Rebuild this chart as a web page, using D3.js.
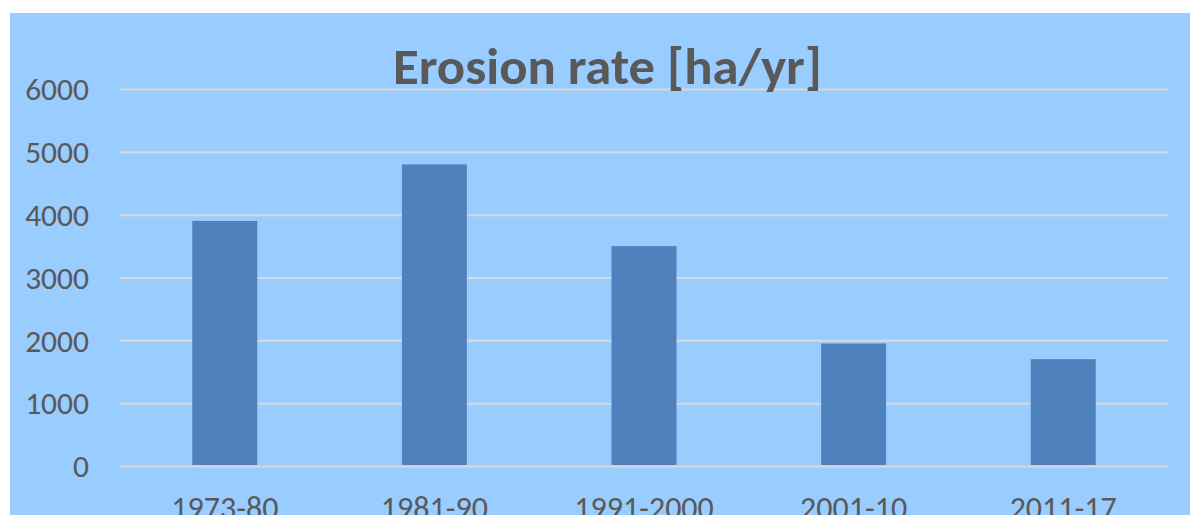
<!DOCTYPE html>
<html>
<head>
<meta charset="utf-8">
<script src="https://cdn.jsdelivr.net/npm/d3@7"></script>
<style>
  html, body { margin: 0; padding: 0; background: #ffffff; }
  svg { display: block; }
</style>
</head>
<body>
<svg id="chart" width="1190" height="515"></svg>
<script>
const title = "Erosion rate [ha/yr]";
const categories = ["1973-80", "1981-90", "1991-2000", "2001-10", "2011-17"];
const values = [3900, 4800, 3500, 1950, 1700];
const yTicks = [0, 1000, 2000, 3000, 4000, 5000, 6000];

const W = 1190, H = 515;
const svg = d3.select("#chart");
const fontFamily = "Calibri, Carlito, Lato, 'Open Sans', sans-serif";
const textColor = "#595959";

svg.append("rect")
  .attr("x", 10).attr("y", 13)
  .attr("width", W - 10).attr("height", H - 13)
  .attr("fill", "#99CCFF");

const plot = { left: 120, right: 1168, top: 89, bottom: 466 };

const x = d3.scaleBand()
  .domain(categories)
  .range([plot.left, plot.right])
  .paddingInner(0.69)
  .paddingOuter(0.345);

const y = d3.scaleLinear()
  .domain([0, 6000])
  .range([plot.bottom, plot.top]);

// gridlines
const grid = svg.append("g")
  .attr("transform", `translate(${plot.left},0)`)
  .call(d3.axisLeft(y).tickValues(yTicks).tickSize(-(plot.right - plot.left)).tickFormat(""));
grid.select(".domain").remove();
grid.selectAll(".tick line").attr("stroke", "#D9D9D9").attr("stroke-width", 2);

// bars
svg.append("g").selectAll("rect")
  .data(values)
  .join("rect")
  .attr("x", (d, i) => x(categories[i]))
  .attr("width", x.bandwidth())
  .attr("y", d => y(d))
  .attr("height", d => y(0) - 1 - y(d))
  .attr("fill", "#4F81BD");

// y axis labels
const yAxis = svg.append("g")
  .attr("transform", `translate(89,0)`)
  .call(d3.axisLeft(y).tickValues(yTicks).tickSize(0).tickPadding(0).tickFormat(d3.format("d")));
yAxis.select(".domain").remove();
yAxis.selectAll("text")
  .attr("fill", textColor)
  .style("font-family", fontFamily)
  .style("font-size", "31.5px")
  .attr("dy", "0.34em");

// x axis labels
const xAxis = svg.append("g")
  .attr("transform", `translate(0,${plot.bottom})`)
  .call(d3.axisBottom(x).tickSize(0).tickPadding(0));
xAxis.select(".domain").remove();
xAxis.selectAll("text")
  .attr("fill", textColor)
  .style("font-family", fontFamily)
  .style("font-size", "32px")
  .attr("dy", null)
  .attr("y", 53);

// title
svg.append("text")
  .attr("x", (393 + 822) / 2)
  .attr("y", 84)
  .attr("text-anchor", "middle")
  .attr("fill", textColor)
  .attr("textLength", 429)
  .attr("lengthAdjust", "spacingAndGlyphs")
  .style("font-family", fontFamily)
  .style("font-weight", "bold")
  .style("font-size", "50px")
  .text(title);
</script>
</body>
</html>
